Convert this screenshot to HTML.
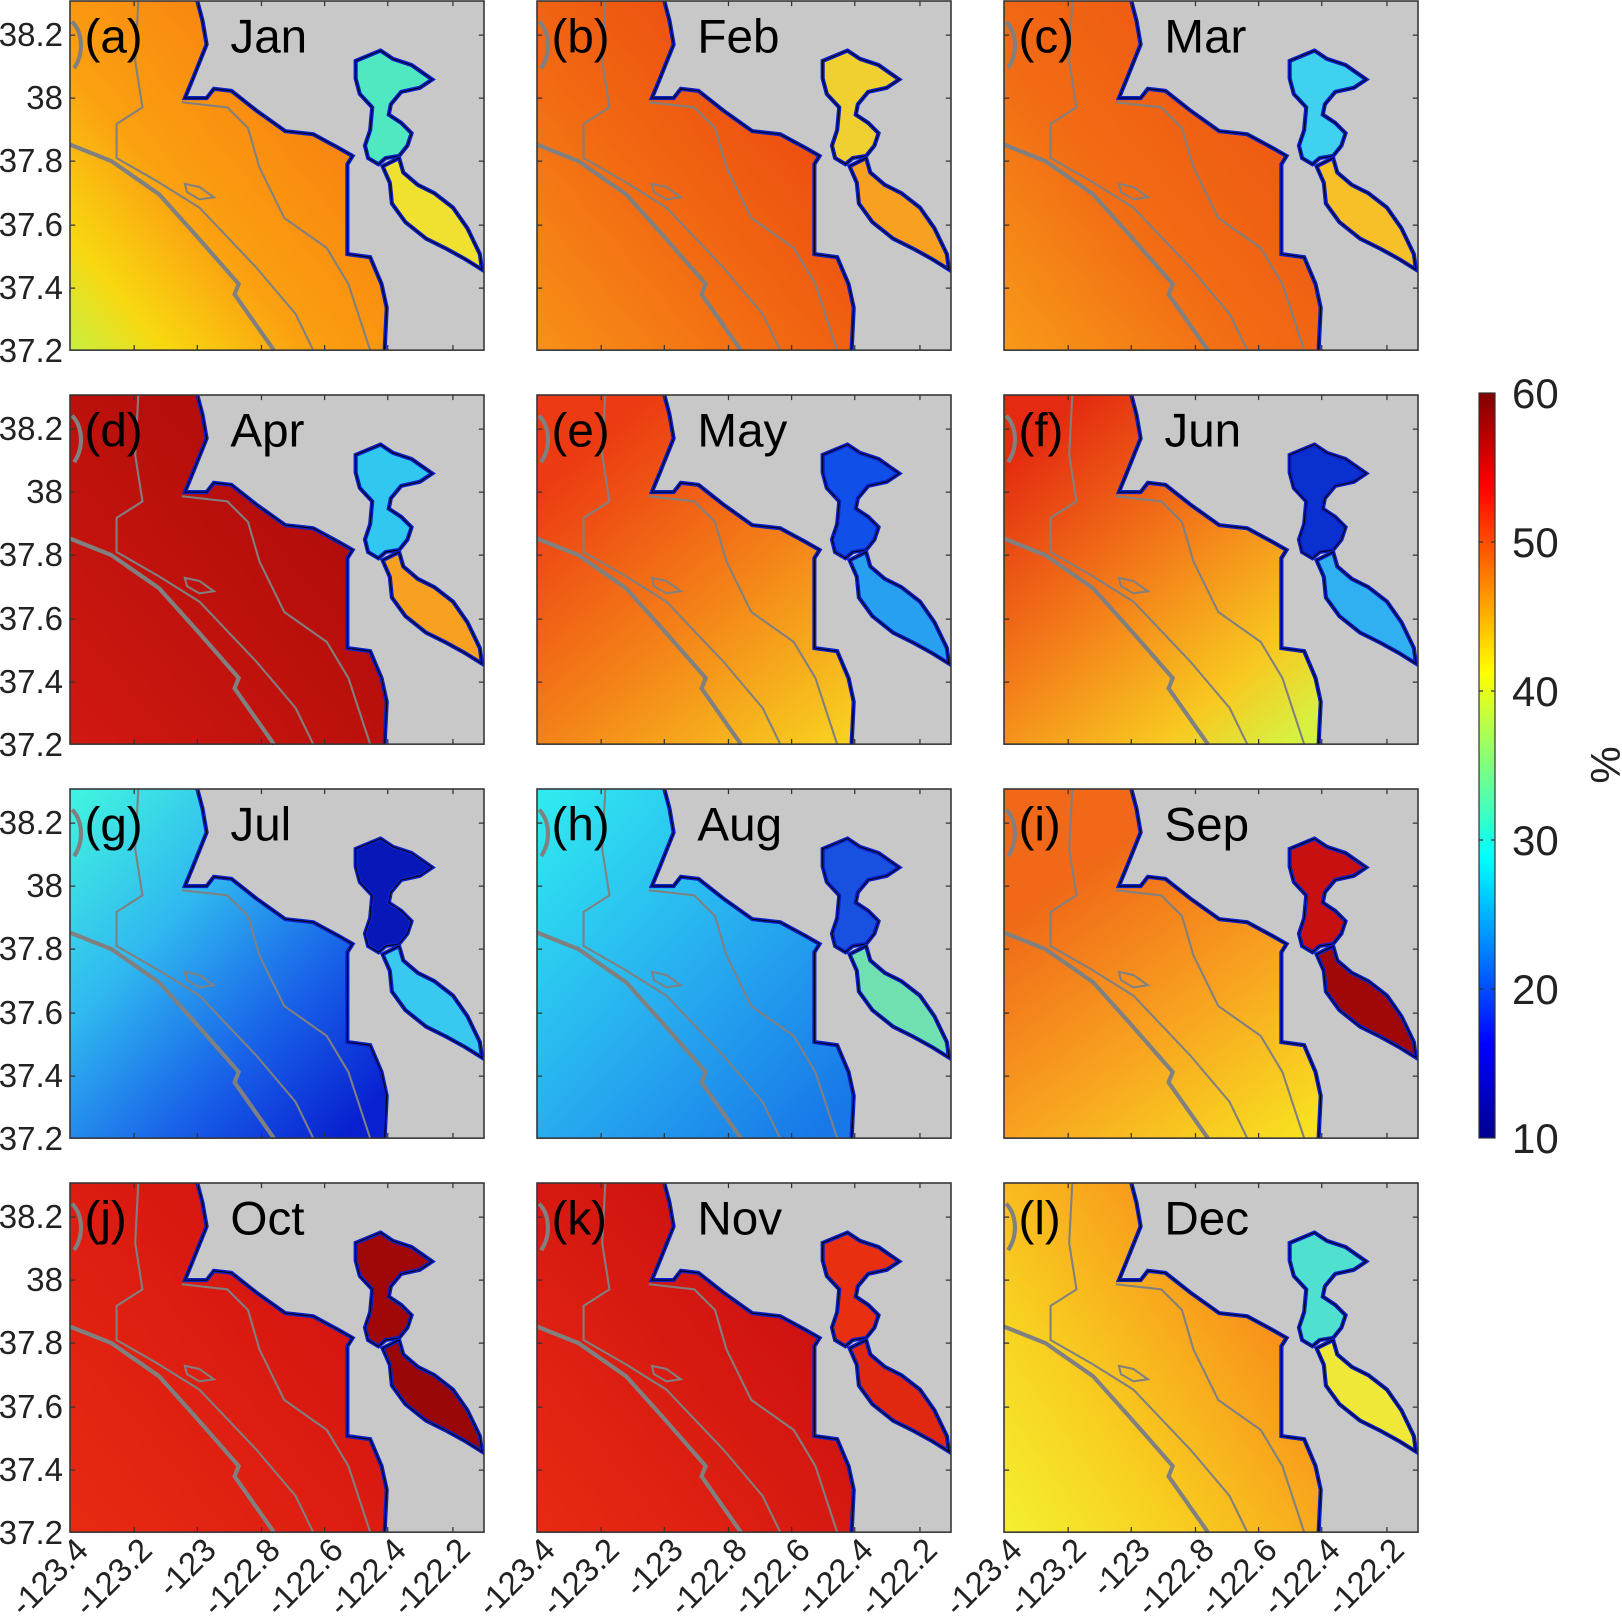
<!DOCTYPE html>
<html><head><meta charset="utf-8"><style>
html,body{margin:0;padding:0;background:#fff}
svg{display:block}
text{font-family:"Liberation Sans",sans-serif;fill:#222}
</style></head><body>
<svg width="1622" height="1624" viewBox="0 0 1622 1624" xmlns="http://www.w3.org/2000/svg">
<defs>
<linearGradient id="jet" x1="0" y1="1" x2="0" y2="0">
<stop offset="0" stop-color="#00008f"/><stop offset="0.125" stop-color="#0000ff"/><stop offset="0.375" stop-color="#00ffff"/><stop offset="0.625" stop-color="#ffff00"/><stop offset="0.875" stop-color="#ff0000"/><stop offset="1" stop-color="#800000"/>
</linearGradient>
<linearGradient id="ga" gradientUnits="userSpaceOnUse" x1="0" y1="338" x2="270" y2="110"><stop offset="0" stop-color="#c8f040"/><stop offset="0.2" stop-color="#f8d810"/><stop offset="0.5" stop-color="#fba010"/><stop offset="1" stop-color="#f88010"/></linearGradient>
<linearGradient id="gb" gradientUnits="userSpaceOnUse" x1="0" y1="338" x2="270" y2="110"><stop offset="0" stop-color="#f89018"/><stop offset="0.5" stop-color="#f26a12"/><stop offset="1" stop-color="#ec4c10"/></linearGradient>
<linearGradient id="gc" gradientUnits="userSpaceOnUse" x1="0" y1="338" x2="270" y2="110"><stop offset="0" stop-color="#f89a18"/><stop offset="0.5" stop-color="#f26c14"/><stop offset="1" stop-color="#ee5812"/></linearGradient>
<linearGradient id="gd" gradientUnits="userSpaceOnUse" x1="0" y1="338" x2="270" y2="110"><stop offset="0" stop-color="#d01810"/><stop offset="1" stop-color="#b00c0a"/></linearGradient>
<linearGradient id="ge" gradientUnits="userSpaceOnUse" x1="60" y1="40" x2="300" y2="330"><stop offset="0" stop-color="#ec3a12"/><stop offset="0.5" stop-color="#f48018"/><stop offset="1" stop-color="#f8d020"/></linearGradient>
<linearGradient id="gf" gradientUnits="userSpaceOnUse" x1="40" y1="30" x2="290" y2="320"><stop offset="0" stop-color="#e42a10"/><stop offset="0.45" stop-color="#f4801a"/><stop offset="0.8" stop-color="#f8c820"/><stop offset="1" stop-color="#d8f040"/></linearGradient>
<linearGradient id="gg" gradientUnits="userSpaceOnUse" x1="0" y1="20" x2="300" y2="300"><stop offset="0" stop-color="#40f0e0"/><stop offset="0.35" stop-color="#30b8f0"/><stop offset="0.7" stop-color="#1860e8"/><stop offset="1" stop-color="#0820d0"/></linearGradient>
<linearGradient id="gh" gradientUnits="userSpaceOnUse" x1="0" y1="20" x2="300" y2="300"><stop offset="0" stop-color="#30e8f0"/><stop offset="0.5" stop-color="#28b0f0"/><stop offset="1" stop-color="#1878e8"/></linearGradient>
<linearGradient id="gi" gradientUnits="userSpaceOnUse" x1="100" y1="60" x2="290" y2="330"><stop offset="0" stop-color="#f06818"/><stop offset="0.5" stop-color="#f8a020"/><stop offset="1" stop-color="#f8e020"/></linearGradient>
<linearGradient id="gj" gradientUnits="userSpaceOnUse" x1="0" y1="338" x2="270" y2="110"><stop offset="0" stop-color="#e82a12"/><stop offset="1" stop-color="#d41410"/></linearGradient>
<linearGradient id="gk" gradientUnits="userSpaceOnUse" x1="0" y1="338" x2="270" y2="110"><stop offset="0" stop-color="#e82a12"/><stop offset="1" stop-color="#cc1010"/></linearGradient>
<linearGradient id="gl" gradientUnits="userSpaceOnUse" x1="0" y1="338" x2="270" y2="150"><stop offset="0" stop-color="#f4f030"/><stop offset="0.4" stop-color="#f8d020"/><stop offset="1" stop-color="#f8901a"/></linearGradient>
<path id="ocean" d="M0,0 L123,0 L128,19 L132,42 L118,77 L111,94 L132,94 L139,85 L156,87 L180,106 L208,126 L235,129 L259,142 L273,150 L268,158 L268,245 L290,248 L301,274 L306,297 L304,338 L0,338 Z"/>
<path id="coast" d="M123,0 L128,19 L132,42 L118,77 L111,94 L132,94 L139,85 L156,87 L180,106 L208,126 L235,129 L259,142 L273,150 L268,158 L268,245 L290,248 L301,274 L306,297 L304,338"/>
<path id="nbay" d="M276,58 L300,48 L312,56 L330,62 L350,76 L338,84 L320,88 L310,100 L308,110 L320,118 L330,128 L326,140 L318,150 L305,152 L298,158 L288,152 L285,140 L290,125 L292,103 L280,90 L276,75 Z"/>
<path id="sbay" d="M302,160 L318,152 L322,166 L336,178 L352,186 L370,200 L384,220 L396,245 L398,260 L382,250 L364,240 L344,230 L324,214 L311,196 L309,176 Z"/>
<g id="contours" fill="none" stroke="#808080">
<path stroke-width="4" d="M0,139 L40,155 L86,187 L121,226 L163,274 L159,284 L197,338"/>
<path stroke-width="2" d="M66,0 L63,58 L70,103 L45,119 L45,152 L85,175 L125,200 L180,258 L218,303 L235,338"/>
<path stroke-width="2" d="M108,98 L152,103 L172,123 L183,161 L207,210 L248,239 L269,274 L290,338"/>
<path stroke-width="2" d="M111,177 L125,180 L139,190 L125,192 L113,185 Z"/>
<path stroke-width="4" d="M2,20 C12,30 14,50 4,65"/>
</g>
<g id="ticks" stroke="#333" stroke-width="1.2">
<path d="M62,0v5M123,0v5M185,0v5M246,0v5M307,0v5M370,0v5M62,338v-5M123,338v-5M185,338v-5M246,338v-5M307,338v-5M370,338v-5M0,33h5M0,94h5M0,155h5M0,217h5M0,278h5M400,33h-5M400,94h-5M400,155h-5M400,217h-5M400,278h-5"/>
</g>
</defs>

<g transform="translate(70,1) scale(1.035,1.033)"><rect width="400" height="338" fill="#c8c8c8"/><use href="#ocean" fill="url(#ga)"/><use href="#coast" fill="none" stroke="#0a20c8" stroke-width="4"/><use href="#coast" fill="none" stroke="#000" stroke-width="1"/><use href="#nbay" fill="#50e8c0" stroke="#0a20c8" stroke-width="4"/><use href="#nbay" fill="none" stroke="#000"/><use href="#sbay" fill="#f0e030" stroke="#0a20c8" stroke-width="4"/><use href="#sbay" fill="none" stroke="#000"/><use href="#contours"/><use href="#ticks"/><rect width="400" height="338" fill="none" stroke="#333" stroke-width="1.5"/><text x="14" y="50" font-size="46" style="fill:#000">(a)</text><text x="155" y="50" font-size="46" style="fill:#000">Jan</text></g>
<g transform="translate(537,1) scale(1.035,1.033)"><rect width="400" height="338" fill="#c8c8c8"/><use href="#ocean" fill="url(#gb)"/><use href="#coast" fill="none" stroke="#0a20c8" stroke-width="4"/><use href="#coast" fill="none" stroke="#000" stroke-width="1"/><use href="#nbay" fill="#f0d030" stroke="#0a20c8" stroke-width="4"/><use href="#nbay" fill="none" stroke="#000"/><use href="#sbay" fill="#f8a020" stroke="#0a20c8" stroke-width="4"/><use href="#sbay" fill="none" stroke="#000"/><use href="#contours"/><use href="#ticks"/><rect width="400" height="338" fill="none" stroke="#333" stroke-width="1.5"/><text x="14" y="50" font-size="46" style="fill:#000">(b)</text><text x="155" y="50" font-size="46" style="fill:#000">Feb</text></g>
<g transform="translate(1004,1) scale(1.035,1.033)"><rect width="400" height="338" fill="#c8c8c8"/><use href="#ocean" fill="url(#gc)"/><use href="#coast" fill="none" stroke="#0a20c8" stroke-width="4"/><use href="#coast" fill="none" stroke="#000" stroke-width="1"/><use href="#nbay" fill="#40d0f0" stroke="#0a20c8" stroke-width="4"/><use href="#nbay" fill="none" stroke="#000"/><use href="#sbay" fill="#f8c028" stroke="#0a20c8" stroke-width="4"/><use href="#sbay" fill="none" stroke="#000"/><use href="#contours"/><use href="#ticks"/><rect width="400" height="338" fill="none" stroke="#333" stroke-width="1.5"/><text x="14" y="50" font-size="46" style="fill:#000">(c)</text><text x="155" y="50" font-size="46" style="fill:#000">Mar</text></g>

<g transform="translate(70,395) scale(1.035,1.033)"><rect width="400" height="338" fill="#c8c8c8"/><use href="#ocean" fill="url(#gd)"/><use href="#coast" fill="none" stroke="#0a20c8" stroke-width="4"/><use href="#coast" fill="none" stroke="#000" stroke-width="1"/><use href="#nbay" fill="#30c8f0" stroke="#0a20c8" stroke-width="4"/><use href="#nbay" fill="none" stroke="#000"/><use href="#sbay" fill="#f8a020" stroke="#0a20c8" stroke-width="4"/><use href="#sbay" fill="none" stroke="#000"/><use href="#contours"/><use href="#ticks"/><rect width="400" height="338" fill="none" stroke="#333" stroke-width="1.5"/><text x="14" y="50" font-size="46" style="fill:#000">(d)</text><text x="155" y="50" font-size="46" style="fill:#000">Apr</text></g>
<g transform="translate(537,395) scale(1.035,1.033)"><rect width="400" height="338" fill="#c8c8c8"/><use href="#ocean" fill="url(#ge)"/><use href="#coast" fill="none" stroke="#0a20c8" stroke-width="4"/><use href="#coast" fill="none" stroke="#000" stroke-width="1"/><use href="#nbay" fill="#1050e8" stroke="#0a20c8" stroke-width="4"/><use href="#nbay" fill="none" stroke="#000"/><use href="#sbay" fill="#28a0f0" stroke="#0a20c8" stroke-width="4"/><use href="#sbay" fill="none" stroke="#000"/><use href="#contours"/><use href="#ticks"/><rect width="400" height="338" fill="none" stroke="#333" stroke-width="1.5"/><text x="14" y="50" font-size="46" style="fill:#000">(e)</text><text x="155" y="50" font-size="46" style="fill:#000">May</text></g>
<g transform="translate(1004,395) scale(1.035,1.033)"><rect width="400" height="338" fill="#c8c8c8"/><use href="#ocean" fill="url(#gf)"/><use href="#coast" fill="none" stroke="#0a20c8" stroke-width="4"/><use href="#coast" fill="none" stroke="#000" stroke-width="1"/><use href="#nbay" fill="#0a30d0" stroke="#0a20c8" stroke-width="4"/><use href="#nbay" fill="none" stroke="#000"/><use href="#sbay" fill="#30b0f0" stroke="#0a20c8" stroke-width="4"/><use href="#sbay" fill="none" stroke="#000"/><use href="#contours"/><use href="#ticks"/><rect width="400" height="338" fill="none" stroke="#333" stroke-width="1.5"/><text x="14" y="50" font-size="46" style="fill:#000">(f)</text><text x="155" y="50" font-size="46" style="fill:#000">Jun</text></g>

<g transform="translate(70,789) scale(1.035,1.033)"><rect width="400" height="338" fill="#c8c8c8"/><use href="#ocean" fill="url(#gg)"/><use href="#coast" fill="none" stroke="#0a20c8" stroke-width="4"/><use href="#coast" fill="none" stroke="#000" stroke-width="1"/><use href="#nbay" fill="#0818b8" stroke="#0a20c8" stroke-width="4"/><use href="#nbay" fill="none" stroke="#000"/><use href="#sbay" fill="#38c8f0" stroke="#0a20c8" stroke-width="4"/><use href="#sbay" fill="none" stroke="#000"/><use href="#contours"/><use href="#ticks"/><rect width="400" height="338" fill="none" stroke="#333" stroke-width="1.5"/><text x="14" y="50" font-size="46" style="fill:#000">(g)</text><text x="155" y="50" font-size="46" style="fill:#000">Jul</text></g>
<g transform="translate(537,789) scale(1.035,1.033)"><rect width="400" height="338" fill="#c8c8c8"/><use href="#ocean" fill="url(#gh)"/><use href="#coast" fill="none" stroke="#0a20c8" stroke-width="4"/><use href="#coast" fill="none" stroke="#000" stroke-width="1"/><use href="#nbay" fill="#1850e0" stroke="#0a20c8" stroke-width="4"/><use href="#nbay" fill="none" stroke="#000"/><use href="#sbay" fill="#70e0b0" stroke="#0a20c8" stroke-width="4"/><use href="#sbay" fill="none" stroke="#000"/><use href="#contours"/><use href="#ticks"/><rect width="400" height="338" fill="none" stroke="#333" stroke-width="1.5"/><text x="14" y="50" font-size="46" style="fill:#000">(h)</text><text x="155" y="50" font-size="46" style="fill:#000">Aug</text></g>
<g transform="translate(1004,789) scale(1.035,1.033)"><rect width="400" height="338" fill="#c8c8c8"/><use href="#ocean" fill="url(#gi)"/><use href="#coast" fill="none" stroke="#0a20c8" stroke-width="4"/><use href="#coast" fill="none" stroke="#000" stroke-width="1"/><use href="#nbay" fill="#c81010" stroke="#0a20c8" stroke-width="4"/><use href="#nbay" fill="none" stroke="#000"/><use href="#sbay" fill="#a00808" stroke="#0a20c8" stroke-width="4"/><use href="#sbay" fill="none" stroke="#000"/><use href="#contours"/><use href="#ticks"/><rect width="400" height="338" fill="none" stroke="#333" stroke-width="1.5"/><text x="14" y="50" font-size="46" style="fill:#000">(i)</text><text x="155" y="50" font-size="46" style="fill:#000">Sep</text></g>

<g transform="translate(70,1183) scale(1.035,1.033)"><rect width="400" height="338" fill="#c8c8c8"/><use href="#ocean" fill="url(#gj)"/><use href="#coast" fill="none" stroke="#0a20c8" stroke-width="4"/><use href="#coast" fill="none" stroke="#000" stroke-width="1"/><use href="#nbay" fill="#a00808" stroke="#0a20c8" stroke-width="4"/><use href="#nbay" fill="none" stroke="#000"/><use href="#sbay" fill="#980606" stroke="#0a20c8" stroke-width="4"/><use href="#sbay" fill="none" stroke="#000"/><use href="#contours"/><use href="#ticks"/><rect width="400" height="338" fill="none" stroke="#333" stroke-width="1.5"/><text x="14" y="50" font-size="46" style="fill:#000">(j)</text><text x="155" y="50" font-size="46" style="fill:#000">Oct</text></g>
<g transform="translate(537,1183) scale(1.035,1.033)"><rect width="400" height="338" fill="#c8c8c8"/><use href="#ocean" fill="url(#gk)"/><use href="#coast" fill="none" stroke="#0a20c8" stroke-width="4"/><use href="#coast" fill="none" stroke="#000" stroke-width="1"/><use href="#nbay" fill="#e83010" stroke="#0a20c8" stroke-width="4"/><use href="#nbay" fill="none" stroke="#000"/><use href="#sbay" fill="#e02810" stroke="#0a20c8" stroke-width="4"/><use href="#sbay" fill="none" stroke="#000"/><use href="#contours"/><use href="#ticks"/><rect width="400" height="338" fill="none" stroke="#333" stroke-width="1.5"/><text x="14" y="50" font-size="46" style="fill:#000">(k)</text><text x="155" y="50" font-size="46" style="fill:#000">Nov</text></g>
<g transform="translate(1004,1183) scale(1.035,1.033)"><rect width="400" height="338" fill="#c8c8c8"/><use href="#ocean" fill="url(#gl)"/><use href="#coast" fill="none" stroke="#0a20c8" stroke-width="4"/><use href="#coast" fill="none" stroke="#000" stroke-width="1"/><use href="#nbay" fill="#50e0d0" stroke="#0a20c8" stroke-width="4"/><use href="#nbay" fill="none" stroke="#000"/><use href="#sbay" fill="#f0e838" stroke="#0a20c8" stroke-width="4"/><use href="#sbay" fill="none" stroke="#000"/><use href="#contours"/><use href="#ticks"/><rect width="400" height="338" fill="none" stroke="#333" stroke-width="1.5"/><text x="14" y="50" font-size="46" style="fill:#000">(l)</text><text x="155" y="50" font-size="46" style="fill:#000">Dec</text></g>

<g font-size="33" text-anchor="end">
<text x="63" y="46">38.2</text><text x="63" y="109">38</text><text x="63" y="172">37.8</text><text x="63" y="236">37.6</text><text x="63" y="299">37.4</text><text x="63" y="362">37.2</text>
<text x="63" y="440">38.2</text><text x="63" y="503">38</text><text x="63" y="566">37.8</text><text x="63" y="630">37.6</text><text x="63" y="693">37.4</text><text x="63" y="756">37.2</text>
<text x="63" y="834">38.2</text><text x="63" y="897">38</text><text x="63" y="960">37.8</text><text x="63" y="1024">37.6</text><text x="63" y="1087">37.4</text><text x="63" y="1150">37.2</text>
<text x="63" y="1228">38.2</text><text x="63" y="1291">38</text><text x="63" y="1354">37.8</text><text x="63" y="1418">37.6</text><text x="63" y="1481">37.4</text><text x="63" y="1544">37.2</text>
</g>
<g font-size="33" text-anchor="end">
<text transform="translate(90,1552) rotate(-45)">-123.4</text><text transform="translate(154,1552) rotate(-45)">-123.2</text><text transform="translate(218,1552) rotate(-45)">-123</text><text transform="translate(282,1552) rotate(-45)">-122.8</text><text transform="translate(345,1552) rotate(-45)">-122.6</text><text transform="translate(408,1552) rotate(-45)">-122.4</text><text transform="translate(472,1552) rotate(-45)">-122.2</text>
<text transform="translate(557,1552) rotate(-45)">-123.4</text><text transform="translate(621,1552) rotate(-45)">-123.2</text><text transform="translate(685,1552) rotate(-45)">-123</text><text transform="translate(749,1552) rotate(-45)">-122.8</text><text transform="translate(812,1552) rotate(-45)">-122.6</text><text transform="translate(875,1552) rotate(-45)">-122.4</text><text transform="translate(939,1552) rotate(-45)">-122.2</text>
<text transform="translate(1024,1552) rotate(-45)">-123.4</text><text transform="translate(1088,1552) rotate(-45)">-123.2</text><text transform="translate(1152,1552) rotate(-45)">-123</text><text transform="translate(1216,1552) rotate(-45)">-122.8</text><text transform="translate(1279,1552) rotate(-45)">-122.6</text><text transform="translate(1342,1552) rotate(-45)">-122.4</text><text transform="translate(1406,1552) rotate(-45)">-122.2</text>
</g>
<rect x="1479" y="393" width="16" height="745" fill="url(#jet)" stroke="#333" stroke-width="1.2"/>
<g stroke="#333" stroke-width="1.2"><path d="M1479,542h4M1479,691h4M1479,840h4M1479,989h4M1495,542h-4M1495,691h-4M1495,840h-4M1495,989h-4"/></g>
<g font-size="42"><text x="1512" y="408">60</text><text x="1512" y="557">50</text><text x="1512" y="706">40</text><text x="1512" y="855">30</text><text x="1512" y="1004">20</text><text x="1512" y="1153">10</text></g>
<text transform="translate(1620,765) rotate(-90)" font-size="42" text-anchor="middle">%</text>
</svg>
</body></html>
